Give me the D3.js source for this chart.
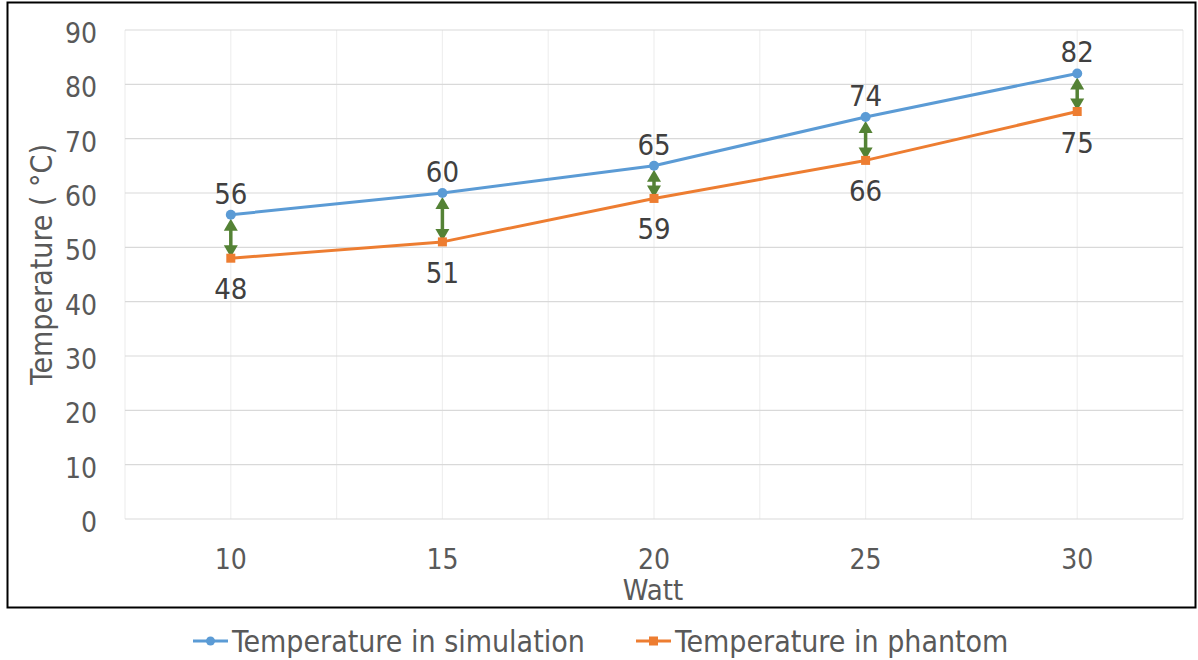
<!DOCTYPE html>
<html>
<head>
<meta charset="utf-8">
<script src="https://cdn.jsdelivr.net/npm/d3@7"></script>
<style>
  html, body { margin: 0; padding: 0; background: #fff; }
  svg { display: block; }
  text { font-family: "DejaVu Sans Condensed", "DejaVu Sans", sans-serif; }
</style>
</head>
<body>
<svg id="chart" width="1198" height="660"></svg>
<script>
// Power settings (W) and measured / simulated temperatures (°C)
const watts = ["10", "15", "20", "25", "30"];
const simTemps = [56, 60, 65, 74, 82];
const phantomTemps = [48, 51, 59, 66, 75];
const yTicks = [0, 10, 20, 30, 40, 50, 60, 70, 80, 90];
const seriesNames = ["Temperature in simulation", "Temperature in phantom"];

const FONT = '"DejaVu Sans Condensed", "DejaVu Sans", sans-serif';
const svg = d3.select("#chart");
const plot = { left: 125, right: 1183, top: 30, bottom: 519 };

// Outer frame
svg.append("rect")
  .attr("x", 7.5).attr("y", 2.5)
  .attr("width", 1188).attr("height", 605)
  .attr("fill", "#fff").attr("stroke", "#000").attr("stroke-width", 2);

const x = d3.scaleBand().domain(watts).range([plot.left, plot.right]).padding(0);
const y = d3.scaleLinear().domain([0, 90]).range([plot.bottom, plot.top]);
const cx = d => x(d) + x.bandwidth() / 2;

// Vertical gridlines at category centres and boundaries
const vLines = [];
watts.forEach(w => { vLines.push(x(w)); vLines.push(cx(w)); });
vLines.push(plot.right);
svg.append("g").selectAll("line").data(vLines).join("line")
  .attr("x1", d => d).attr("x2", d => d)
  .attr("y1", plot.top).attr("y2", plot.bottom)
  .attr("stroke", "#efefef").attr("stroke-width", 1.2);

// Horizontal gridlines
svg.append("g").selectAll("line").data(yTicks).join("line")
  .attr("x1", plot.left).attr("x2", plot.right)
  .attr("y1", d => y(d)).attr("y2", d => y(d))
  .attr("stroke", "#d9d9d9").attr("stroke-width", 1.2);

// Y axis labels
const yAxis = d3.axisLeft(y).tickValues(yTicks).tickSize(0).tickPadding(0);
const gy = svg.append("g").attr("transform", `translate(97,0)`).call(yAxis);
gy.select(".domain").remove();
gy.selectAll("text").attr("font-size", 28).attr("fill", "#595959")
  .attr("dy", null).attr("y", 12.5)
  .style("font-family", FONT);

// X axis labels
const xAxis = d3.axisBottom(x).tickSize(0).tickPadding(0);
const gx = svg.append("g").attr("transform", `translate(0,569)`).call(xAxis);
gx.select(".domain").remove();
gx.selectAll("text").attr("font-size", 28).attr("fill", "#595959")
  .attr("dy", null).attr("y", 0)
  .style("font-family", FONT);

// Axis titles
svg.append("text")
  .attr("x", (plot.left + plot.right) / 2 - 1).attr("y", 600)
  .attr("text-anchor", "middle").attr("font-size", 29).attr("fill", "#595959")
  .text("Watt");
svg.append("text")
  .attr("transform", `translate(52,${(132 + 397) / 2}) rotate(-90)`)
  .attr("text-anchor", "middle").attr("font-size", 30).attr("fill", "#595959")
  .text("Temperature ( °C)");

// Series lines
const line = d3.line().x((d, i) => cx(watts[i])).y(d => y(d));
svg.append("path").datum(simTemps).attr("d", line)
  .attr("fill", "none").attr("stroke", "#5B9BD5").attr("stroke-width", 3).attr("stroke-linejoin", "round");
svg.append("path").datum(phantomTemps).attr("d", line)
  .attr("fill", "none").attr("stroke", "#ED7D31").attr("stroke-width", 3).attr("stroke-linejoin", "round");

// Double-headed arrows marking the gap between the two series
const arrowG = svg.append("g");
watts.forEach((w, i) => {
  const xc = cx(w);
  const y1 = y(simTemps[i]) + 4;
  const y2 = y(phantomTemps[i]) - 1;
  const hh = 12, hw = 7;
  arrowG.append("line")
    .attr("x1", xc).attr("x2", xc).attr("y1", y1 + hh - 1).attr("y2", y2 - hh + 1)
    .attr("stroke", "#548235").attr("stroke-width", 3.5);
  arrowG.append("path")
    .attr("d", `M${xc},${y1} L${xc - hw},${y1 + hh} L${xc + hw},${y1 + hh} Z`)
    .attr("fill", "#548235");
  arrowG.append("path")
    .attr("d", `M${xc},${y2} L${xc - hw},${y2 - hh} L${xc + hw},${y2 - hh} Z`)
    .attr("fill", "#548235");
});

// Markers
svg.append("g").selectAll("circle").data(simTemps).join("circle")
  .attr("cx", (d, i) => cx(watts[i])).attr("cy", d => y(d)).attr("r", 5)
  .attr("fill", "#5B9BD5");
svg.append("g").selectAll("rect").data(phantomTemps).join("rect")
  .attr("x", (d, i) => cx(watts[i]) - 4.5).attr("y", d => y(d) - 4.5)
  .attr("width", 9).attr("height", 9).attr("fill", "#ED7D31");

// Data labels
svg.append("g").selectAll("text").data(simTemps).join("text")
  .attr("x", (d, i) => cx(watts[i])).attr("y", d => y(d) - 11)
  .attr("text-anchor", "middle").attr("font-size", 29).attr("fill", "#404040")
  .text(d => d);
svg.append("g").selectAll("text").data(phantomTemps).join("text")
  .attr("x", (d, i) => cx(watts[i])).attr("y", d => y(d) + 41)
  .attr("text-anchor", "middle").attr("font-size", 29).attr("fill", "#404040")
  .text(d => d);

// Legend
const colors = ["#5B9BD5", "#ED7D31"];
const legendX = [193, 636];
seriesNames.forEach((name, i) => {
  const g = svg.append("g").attr("transform", `translate(${legendX[i]},641)`);
  g.append("line").attr("x1", 0).attr("x2", 35).attr("y1", 0).attr("y2", 0)
    .attr("stroke", colors[i]).attr("stroke-width", 3);
  if (i === 0) g.append("circle").attr("cx", 17.5).attr("cy", 0).attr("r", 4.5).attr("fill", colors[i]);
  else g.append("rect").attr("x", 13).attr("y", -4.5).attr("width", 9).attr("height", 9).attr("fill", colors[i]);
  g.append("text").attr("x", 39).attr("y", 11).attr("font-size", 30).attr("fill", "#595959").text(name);
});
</script>
</body>
</html>
